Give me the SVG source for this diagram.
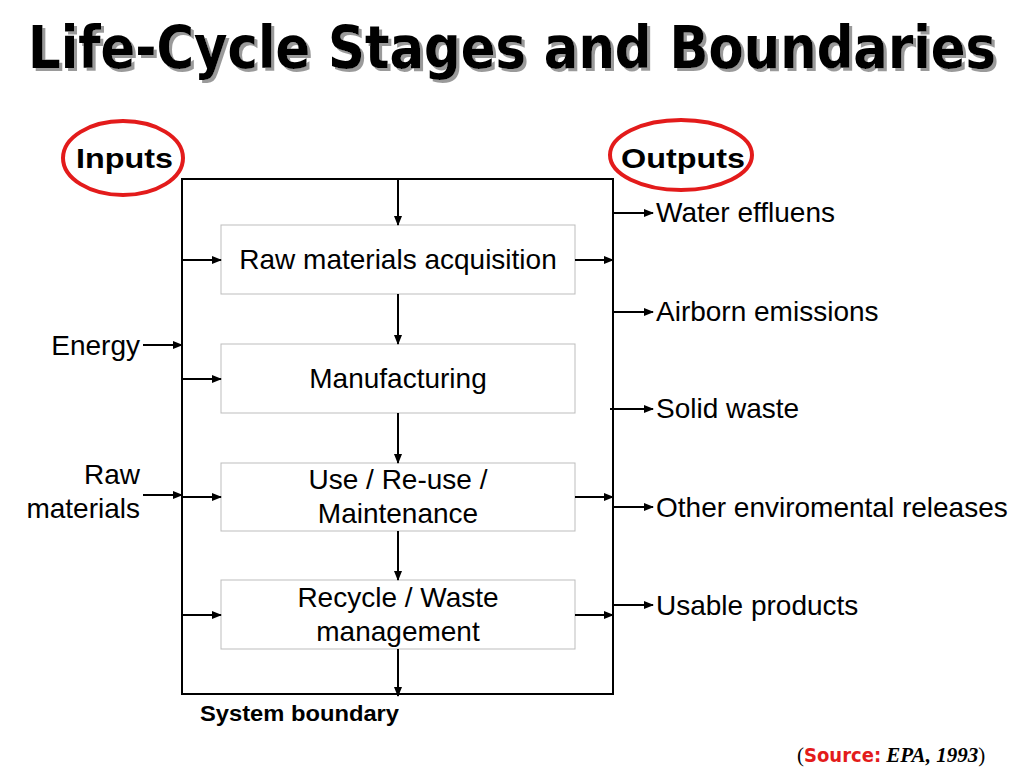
<svg xmlns="http://www.w3.org/2000/svg" width="1024" height="768" viewBox="0 0 1024 768">
<defs>
<marker id="ah" markerWidth="10" markerHeight="8" refX="9" refY="4" orient="auto" markerUnits="userSpaceOnUse">
<path d="M0,0 L10,4 L0,8 Z" fill="#000"/>
</marker>
<filter id="sh" filterUnits="userSpaceOnUse" x="-40" y="-80" width="1100" height="140">
<feOffset in="SourceAlpha" dx="3" dy="3" result="o"/>
<feFlood flood-color="#9a9a9a"/>
<feComposite in2="o" operator="in" result="s"/>
<feMerge><feMergeNode in="s"/><feMergeNode in="SourceGraphic"/></feMerge>
</filter>
<style>
.t{font-family:"Liberation Sans",Arial,sans-serif;font-size:28px;fill:#000}
.c{text-anchor:middle}
.r{text-anchor:end}
.box{fill:#fff;stroke:#bdbdbd;stroke-width:1}
.ln{stroke:#000;stroke-width:2;fill:none}
.ar{stroke:#000;stroke-width:2;fill:none;marker-end:url(#ah)}
.ell{fill:none;stroke:#e31b1b;stroke-width:4}
</style>
</defs>
<rect width="1024" height="768" fill="#fff"/>
<g id="title" transform="translate(28,68) scale(1,1.15)" filter="url(#sh)">
<text x="0" y="0" font-family="'DejaVu Sans Condensed','DejaVu Sans',sans-serif" font-weight="bold" font-size="51" fill="#000" textLength="968" lengthAdjust="spacingAndGlyphs">Life-Cycle Stages and Boundaries</text>
</g>
<g id="inputs">
<ellipse class="ell" cx="123" cy="158" rx="60" ry="37"/>
<text class="t" x="76" y="168" font-weight="bold" font-size="33" textLength="97" lengthAdjust="spacingAndGlyphs">Inputs</text>
</g>
<g id="outputs">
<ellipse class="ell" cx="681" cy="155" rx="71" ry="35"/>
<text class="t" x="621" y="168" font-weight="bold" font-size="33" textLength="124" lengthAdjust="spacingAndGlyphs">Outputs</text>
</g>
<g id="boundary">
<rect x="182" y="179" width="431" height="515" class="ln"/>
<text x="200" y="721" font-family="'Liberation Sans',Arial,sans-serif" font-weight="bold" font-size="22" textLength="199" lengthAdjust="spacingAndGlyphs">System boundary</text>
</g>
<g id="stage1">
<rect class="box" x="221" y="225" width="354" height="69"/>
<text class="t c" x="398" y="269">Raw materials acquisition</text>
</g>
<g id="stage2">
<rect class="box" x="221" y="344" width="354" height="69"/>
<text class="t c" x="398" y="388">Manufacturing</text>
</g>
<g id="stage3">
<rect class="box" x="221" y="463" width="354" height="68"/>
<text class="t c" x="398" y="489">Use / Re-use /</text>
<text class="t c" x="398" y="523">Maintenance</text>
</g>
<g id="stage4">
<rect class="box" x="221" y="580" width="354" height="69"/>
<text class="t c" x="398" y="607">Recycle / Waste</text>
<text class="t c" x="398" y="641">management</text>
</g>
<g id="input-labels">
<text class="t r" x="140" y="355">Energy</text>
<text class="t r" x="140" y="484">Raw</text>
<text class="t r" x="140" y="518">materials</text>
</g>
<g id="output-labels">
<text class="t" x="656" y="222">Water effluens</text>
<text class="t" x="656" y="321">Airborn emissions</text>
<text class="t" x="656" y="418">Solid waste</text>
<text class="t" x="656" y="517">Other enviromental releases</text>
<text class="t" x="656" y="615">Usable products</text>
</g>
<g id="connectors">
<line class="ar" x1="398" y1="179" x2="398" y2="225"/>
<line class="ar" x1="398" y1="294" x2="398" y2="344"/>
<line class="ar" x1="398" y1="413" x2="398" y2="463"/>
<line class="ar" x1="398" y1="531" x2="398" y2="580"/>
<line class="ar" x1="398" y1="649" x2="398" y2="696"/>
<line class="ar" x1="182" y1="260" x2="221" y2="260"/>
<line class="ar" x1="182" y1="379" x2="221" y2="379"/>
<line class="ar" x1="182" y1="497" x2="221" y2="497"/>
<line class="ar" x1="182" y1="615" x2="221" y2="615"/>
<line class="ar" x1="143" y1="345" x2="182" y2="345"/>
<line class="ar" x1="143" y1="495" x2="182" y2="495"/>
<line class="ar" x1="575" y1="260" x2="613" y2="260"/>
<line class="ar" x1="575" y1="497" x2="613" y2="497"/>
<line class="ar" x1="575" y1="615" x2="613" y2="615"/>
<line class="ar" x1="613" y1="213" x2="653" y2="213"/>
<line class="ar" x1="613" y1="312" x2="653" y2="312"/>
<line class="ar" x1="610" y1="409" x2="653" y2="409"/>
<line class="ar" x1="613" y1="507" x2="653" y2="507"/>
<line class="ar" x1="613" y1="605" x2="653" y2="605"/>
</g>
<g id="source">
<text x="797" y="762" font-size="21" font-family="'Liberation Serif','Times New Roman',serif">(<tspan font-family="'DejaVu Sans Condensed','DejaVu Sans',sans-serif" font-weight="bold" fill="#e31b1b" font-size="20">Source:</tspan> <tspan font-weight="bold" font-style="italic">EPA, 1993</tspan>)</text>
</g>
</svg>
